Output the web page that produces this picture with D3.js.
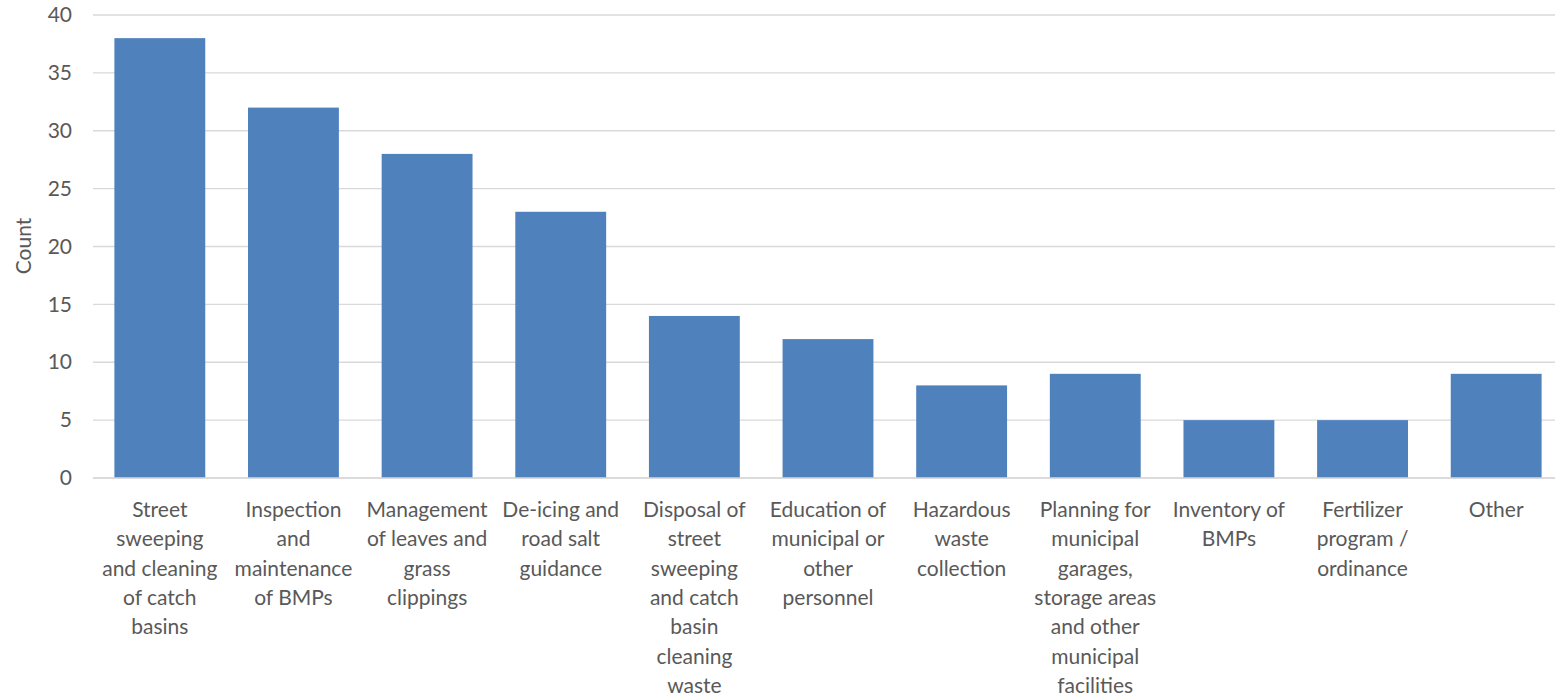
<!DOCTYPE html>
<html><head><meta charset="utf-8">
<script src="https://cdn.jsdelivr.net/npm/d3@7"></script>
<style>html,body{margin:0;padding:0;background:#fff;overflow:hidden}</style>
</head><body>
<svg id="c" width="1555" height="696"></svg>
<script>
const categories = [
  ["Street","sweeping","and cleaning","of catch","basins"],
  ["Inspection","and","maintenance","of BMPs"],
  ["Management","of leaves and","grass","clippings"],
  ["De-icing and","road salt","guidance"],
  ["Disposal of","street","sweeping","and catch","basin","cleaning","waste"],
  ["Education of","municipal or","other","personnel"],
  ["Hazardous","waste","collection"],
  ["Planning for","municipal","garages,","storage areas","and other","municipal","facilities"],
  ["Inventory of","BMPs"],
  ["Fertilizer","program /","ordinance"],
  ["Other"]
];
const counts = [38, 32, 28, 23, 14, 12, 8, 9, 5, 5, 9];
const yTicks = [0, 5, 10, 15, 20, 25, 30, 35, 40];
const yLabel = "Count";

const FONT = "Lato";
const TXT = "#595959";
const svg = d3.select("#c");
const keys = categories.map((c,i)=>i);

const x = d3.scaleBand().domain(keys).range([93, 1563]).paddingInner(0.32).paddingOuter(0.16);
const y = d3.scaleLinear().domain([0, 40]).range([478, 15]);

// gridlines
svg.append("g").selectAll("line").data(yTicks).join("line")
  .attr("x1", 93).attr("x2", 1555)
  .attr("y1", d => y(d)).attr("y2", d => y(d))
  .attr("stroke", "#d9d9d9").attr("stroke-width", 1.4);

// bars
svg.append("g").selectAll("rect").data(counts).join("rect")
  .attr("x", (d,i) => x(i)).attr("width", x.bandwidth())
  .attr("y", d => y(d)).attr("height", d => y(0) - y(d))
  .attr("fill", "#4f81bd");

// baseline on top
svg.append("line").attr("x1",93).attr("x2",1555).attr("y1",y(0)).attr("y2",y(0))
  .attr("stroke","#d9d9d9").attr("stroke-width",1.4);

// y axis labels
const yAxis = d3.axisLeft(y).tickValues(yTicks).tickSize(0).tickPadding(0);
const ga = svg.append("g").attr("transform","translate(72,0)").call(yAxis);
ga.select(".domain").remove();
ga.selectAll("text").style("font-family", FONT).style("font-size","21px").attr("fill", TXT);

// x category labels
const gx = svg.append("g");
categories.forEach((lines,i) => {
  const t = gx.append("text")
    .attr("x", x(i) + x.bandwidth()/2).attr("y", 517)
    .attr("text-anchor","middle")
    .style("font-family", FONT).style("font-size","21px").attr("fill", TXT);
  lines.forEach((l,j) => {
    t.append("tspan").attr("x", x(i) + x.bandwidth()/2).attr("y", 517 + j*29.3).text(l);
  });
});

// y title
svg.append("text")
  .attr("transform","translate(31,246) rotate(-90)")
  .attr("text-anchor","middle")
  .style("font-family", FONT).style("font-size","21px").attr("fill", TXT)
  .text(yLabel);
</script>
</body></html>
